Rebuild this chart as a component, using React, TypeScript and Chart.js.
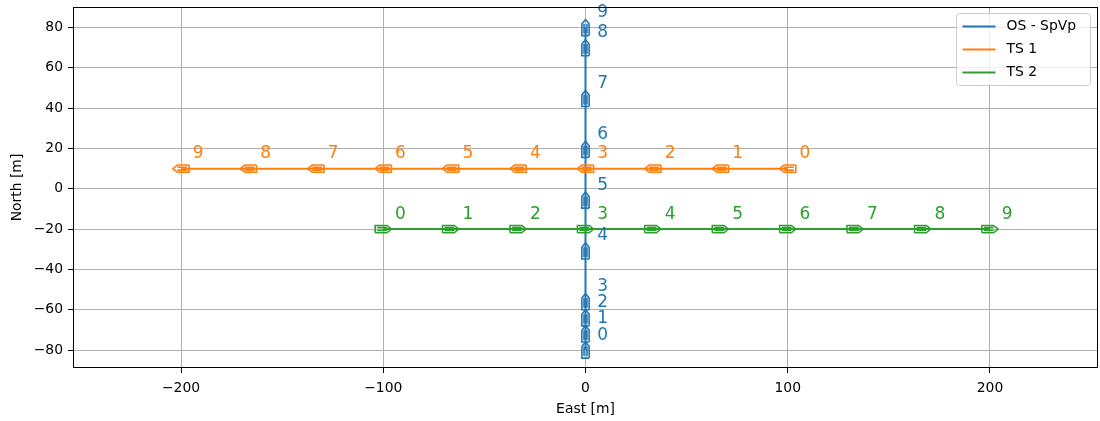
import React, { useEffect, useRef } from "react";
import { Chart, registerables } from "chart.js";

Chart.register(...registerables);

// Time-step labels shared by every vessel
const STEP_LABELS = ["0", "1", "2", "3", "4", "5", "6", "7", "8", "9"];

// Own ship (OS) track, metres
const OS_EAST = [0, 0, 0, 0, 0, 0, 0, 0, 0, 0];
const OS_NORTH = [-80, -72, -64, -56, -30.8, -5.6, 19.6, 44.8, 70, 80];

// Target ship 1 track
const TS1_EAST = [100, 66.7, 33.3, 0, -33.3, -66.7, -100, -133.3, -166.7, -200];
const TS1_NORTH = [10, 10, 10, 10, 10, 10, 10, 10, 10, 10];

// Target ship 2 track
const TS2_EAST = [-100, -66.7, -33.3, 0, 33.3, 66.7, 100, 133.3, 166.7, 200];
const TS2_NORTH = [-20, -20, -20, -20, -20, -20, -20, -20, -20, -20];

const VESSEL_NAMES = ["OS - SpVp", "TS 1", "TS 2"];
const VESSEL_COLORS = ["#1f77b4", "#ff7f0e", "#2ca02c"];

const X_TICKS = [-200, -100, 0, 100, 200];
const Y_TICKS = [-80, -60, -40, -20, 0, 20, 40, 60, 80];
const X_LIMITS = [-253.4, 253.4];
const Y_LIMITS = [-88.9, 90.2];

const FONT = '"DejaVu Sans", sans-serif';
const HULL_LENGTH = 8;
const HULL_BEAM = 3.6;
const LABEL_DX = 8.5;
const LABEL_DY = 7.4;

type Pt = { x: number | null; y: number | null };

const vessels = [
  { east: OS_EAST, north: OS_NORTH },
  { east: TS1_EAST, north: TS1_NORTH },
  { east: TS2_EAST, north: TS2_NORTH },
].map((v, i) => ({ ...v, name: VESSEL_NAMES[i], color: VESSEL_COLORS[i] }));

// Outline of a small hull (stern flat, pointed bow) in ship-local coordinates:
// u runs along the heading, v across it.
function hullShapes(): [number, number][][] {
  const h = HULL_LENGTH / 2;
  const b = HULL_BEAM / 2;
  const s = h * 0.45;
  return [
    [[-h, -b], [s, -b], [h, 0], [s, b], [-h, b], [-h, -b]],
    [[-h * 0.75, -b * 0.4], [s, -b * 0.4]],
    [[-h * 0.75, b * 0.4], [s, b * 0.4]],
  ];
}

function hullPoints(east: number[], north: number[]): Pt[] {
  const pts: Pt[] = [];
  const n = east.length;
  for (let i = 0; i < n; i++) {
    const a = i < n - 1 ? i : i - 1;
    let dx = east[a + 1] - east[a];
    let dy = north[a + 1] - north[a];
    const len = Math.hypot(dx, dy) || 1;
    dx /= len;
    dy /= len;
    for (const shape of hullShapes()) {
      for (const [u, v] of shape) {
        pts.push({ x: east[i] + u * dx - v * dy, y: north[i] + u * dy + v * dx });
      }
      pts.push({ x: null, y: null });
    }
  }
  return pts;
}

const decorPlugin = {
  id: "decor",
  afterDatasetsDraw(chart: any) {
    const { ctx, chartArea: a, scales } = chart;
    const xs = scales.x;
    const ys = scales.y;
    ctx.save();

    // step numbers beside each hull
    ctx.font = `17px ${FONT}`;
    ctx.textAlign = "center";
    ctx.textBaseline = "middle";
    vessels.forEach((v) => {
      ctx.fillStyle = v.color;
      v.east.forEach((e, i) => {
        ctx.fillText(
          STEP_LABELS[i],
          xs.getPixelForValue(e + LABEL_DX),
          ys.getPixelForValue(v.north[i] + LABEL_DY)
        );
      });
    });

    // axes frame
    ctx.strokeStyle = "#000";
    ctx.lineWidth = 1;
    ctx.strokeRect(a.left + 0.5, a.top + 0.5, a.width - 1, a.height - 1);

    // legend box in the upper right corner
    const bw = 134;
    const bh = 72;
    const bx = a.right - 8 - bw + 0.5;
    const by = a.top + 6 + 0.5;
    ctx.beginPath();
    ctx.roundRect(bx, by, bw, bh, 3);
    ctx.fillStyle = "rgba(255,255,255,0.8)";
    ctx.fill();
    ctx.strokeStyle = "#cccccc";
    ctx.lineWidth = 1;
    ctx.stroke();
    ctx.font = `13.9px ${FONT}`;
    ctx.textAlign = "left";
    ctx.textBaseline = "middle";
    vessels.forEach((v, i) => {
      const ly = by + 13 + i * 23;
      ctx.strokeStyle = v.color;
      ctx.lineWidth = 2;
      ctx.beginPath();
      ctx.moveTo(bx + 6, ly);
      ctx.lineTo(bx + 39, ly);
      ctx.stroke();
      ctx.fillStyle = "#000";
      ctx.fillText(v.name, bx + 50, ly);
    });

    ctx.restore();
  },
};

const fmt = (v: number) => (v < 0 ? "\u2212" + Math.abs(v) : String(v));

export default function App() {
  const ref = useRef<HTMLCanvasElement | null>(null);

  useEffect(() => {
    if (!ref.current) return;
    const datasets: any[] = [];
    vessels.forEach((v, i) => {
      datasets.push({
        label: v.name,
        data: v.east.map((e, k) => ({ x: e, y: v.north[k] })),
        showLine: true,
        borderColor: v.color,
        backgroundColor: v.color,
        borderWidth: 2,
        pointRadius: 0,
        order: 10 - i * 2,
      });
      datasets.push({
        label: v.name + " hull",
        data: hullPoints(v.east, v.north),
        showLine: true,
        spanGaps: false,
        borderColor: v.color,
        backgroundColor: v.color,
        borderWidth: 1.6,
        pointRadius: 0,
        order: 9 - i * 2,
      });
    });

    const tickFont = { family: FONT, size: 13.9 };
    const chart = new Chart(ref.current, {
      type: "scatter",
      data: { datasets },
      plugins: [decorPlugin],
      options: {
        animation: false,
        responsive: false,
        layout: { padding: { top: 7, right: 2, left: 0, bottom: 0 } },
        plugins: { legend: { display: false }, tooltip: { enabled: false } },
        scales: {
          x: {
            type: "linear",
            position: "bottom",
            min: X_LIMITS[0],
            max: X_LIMITS[1],
            afterBuildTicks: (s: any) => {
              s.ticks = X_TICKS.map((value) => ({ value }));
            },
            afterFit: (s: any) => {
              s.height = 53;
              s.paddingLeft = 0;
              s.paddingRight = 0;
            },
            border: { display: false },
            grid: {
              color: "#b0b0b0",
              lineWidth: 1,
              drawTicks: true,
              tickLength: 5,
              tickColor: "#000",
              tickWidth: 1,
            },
            ticks: {
              color: "#000",
              font: tickFont,
              padding: 7,
              maxRotation: 0,
              callback: (v: any) => fmt(Number(v)),
            },
            title: {
              display: true,
              text: "East [m]",
              color: "#000",
              font: tickFont,
              padding: { top: 0, bottom: 3 },
            },
          },
          y: {
            type: "linear",
            min: Y_LIMITS[0],
            max: Y_LIMITS[1],
            afterBuildTicks: (s: any) => {
              s.ticks = Y_TICKS.map((value) => ({ value }));
            },
            afterFit: (s: any) => {
              s.width = 73;
              s.paddingTop = 0;
              s.paddingBottom = 0;
            },
            border: { display: false },
            grid: {
              color: "#b0b0b0",
              lineWidth: 1,
              drawTicks: true,
              tickLength: 5,
              tickColor: "#000",
              tickWidth: 1,
            },
            ticks: {
              color: "#000",
              font: tickFont,
              padding: 5,
              callback: (v: any) => fmt(Number(v)),
            },
            title: {
              display: true,
              text: "North [m]",
              color: "#000",
              font: tickFont,
              padding: { top: 9, bottom: 0 },
            },
          },
        },
      },
    } as any);
    return () => chart.destroy();
  }, []);

  return (
    <div style={{ position: "absolute", left: 0, top: 0, width: 1100, height: 421, background: "#fff" }}>
      <canvas ref={ref} width={1100} height={421} style={{ display: "block" }} />
    </div>
  );
}
